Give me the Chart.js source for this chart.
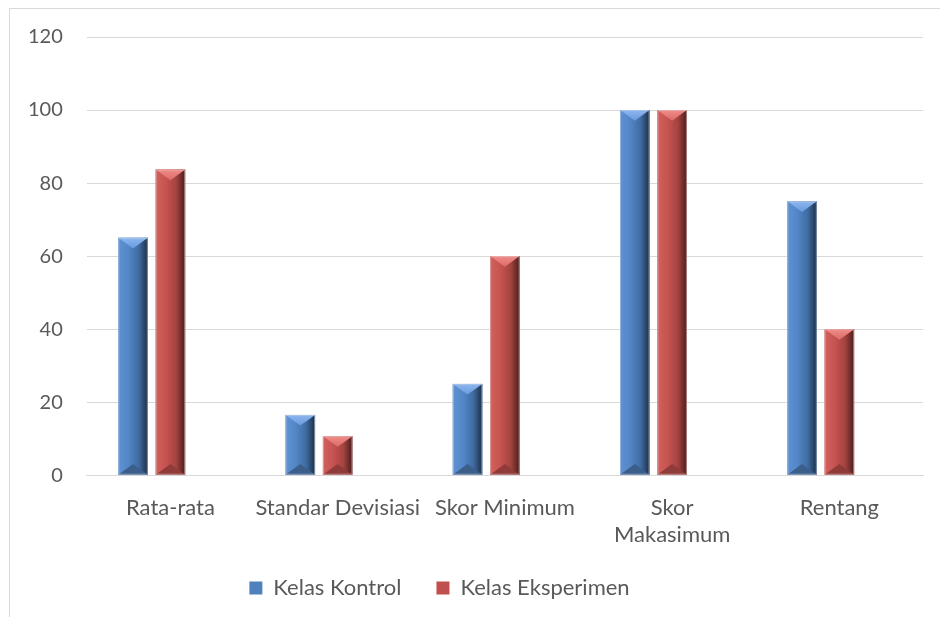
<!DOCTYPE html>
<html>
<head>
<meta charset="utf-8">
<script src="https://cdn.jsdelivr.net/npm/chart.js@4.4.1/dist/chart.umd.min.js"></script>
<style>
  body { margin: 0; background: #fff; overflow: hidden; }
</style>
</head>
<body>
<canvas id="chart" width="940" height="617"></canvas>
<script>
const categories = ['Rata-rata', 'Standar Devisiasi', 'Skor Minimum', ['Skor', 'Makasimum'], 'Rentang'];
const kelasKontrol = [65, 16.5, 25, 100, 75];
const kelasEksperimen = [83.7, 10.7, 60, 100, 40];
// third (empty) series in the original workbook, it still takes a slot in each group
const kosong = [null, null, null, null, null];
const yMin = 0, yMax = 120, yStep = 20;

const textColor = '#595959';
const gridColor = '#d9d9d9';

// bevel look of the office bars, drawn over each bar element
const bevel = {
    id: 'bevel',
    beforeDraw(chart) {
        const ctx = chart.ctx;
        ctx.save();
        ctx.strokeStyle = gridColor;
        ctx.lineWidth = 1;
        ctx.strokeRect(9.5, 8.5, 1000, 1000);
        ctx.restore();
    },
    afterLayout(chart) {
        // legend sits a bit left of centre in the original
        const lg = chart.legend;
        lg.left -= 24;
        lg.right -= 24;
        lg.top -= 18;
        lg.bottom = lg.top + 75;
    },
    afterDatasetsDraw(chart) {
        const ctx = chart.ctx;
        chart.data.datasets.forEach((ds, i) => {
            if (!ds.shade) return;
            const s = ds.shade;
            chart.getDatasetMeta(i).data.forEach(bar => {
                const {x, y, base, width} = bar.getProps(['x', 'y', 'base', 'width'], true);
                if (y == null || isNaN(y)) return;
                const l = x - width / 2, r = x + width / 2;
                ctx.save();
                const g = ctx.createLinearGradient(l, 0, r, 0);
                g.addColorStop(0, s.light);
                g.addColorStop(0.35, s.mid);
                g.addColorStop(0.7, s.mid2);
                g.addColorStop(1, s.dark);
                ctx.fillStyle = g;
                ctx.fillRect(l, y, width, base - y);
                const d = Math.min(width * 0.36, (base - y) / 2);
                ctx.beginPath();
                ctx.moveTo(l, y); ctx.lineTo(r, y); ctx.lineTo(x, y + d); ctx.closePath();
                const gt = ctx.createLinearGradient(0, y, 0, y + d);
                gt.addColorStop(0, s.top);
                gt.addColorStop(1, s.top2);
                ctx.fillStyle = gt;
                ctx.fill();
                ctx.beginPath();
                ctx.moveTo(l, base); ctx.lineTo(r, base); ctx.lineTo(x, base - d); ctx.closePath();
                ctx.fillStyle = s.bottom;
                ctx.fill();
                ctx.strokeStyle = s.edge;
                ctx.lineWidth = 1;
                ctx.strokeRect(l + 0.5, y + 0.5, width - 1, base - y - 1);
                ctx.restore();
            });
        });
    }
};

const ctx = document.querySelector('#chart').getContext('2d');

const chart = new Chart(ctx, {
    type: 'bar',
    data: {
        labels: categories,
        datasets: [{
            label: 'Kelas Kontrol',
            data: kelasKontrol,
            backgroundColor: '#4f81bd',
            shade: {light: '#5f92d4', mid: '#5286c6', mid2: '#3f6ba0', dark: '#1c2e45',
                    top: '#8cb6ef', top2: '#6a9ade', bottom: '#3c5e8a', edge: 'rgba(190,205,225,0.6)'}
        }, {
            label: 'Kelas Eksperimen',
            data: kelasEksperimen,
            backgroundColor: '#c0504d',
            shade: {light: '#d2605d', mid: '#c6534f', mid2: '#a34340', dark: '#4a1c1b',
                    top: '#f08c89', top2: '#dc6b68', bottom: '#8e3b39', edge: 'rgba(225,195,195,0.6)'}
        }, {
            label: '',
            data: kosong,
            backgroundColor: '#9bbb59'
        }]
    },
    options: {
        responsive: false,
        animation: false,
        layout: {
            padding: {left: 4, right: 17, top: 37, bottom: 7}
        },
        datasets: {
            bar: {
                categoryPercentage: 0.67,
                barPercentage: 0.79
            }
        },
        scales: {
            x: {
                grid: {display: false},
                border: {color: gridColor},
                ticks: {
                    color: textColor,
                    padding: 12,
                    maxRotation: 0,
                    autoSkip: false,
                    font: {family: 'Lato', size: 22, lineHeight: 1.2}
                }
            },
            y: {
                min: yMin,
                max: yMax,
                grid: {color: gridColor, drawTicks: false},
                border: {display: false},
                ticks: {
                    stepSize: yStep,
                    color: textColor,
                    padding: 24,
                    font: {family: 'Lato', size: 20}
                }
            }
        },
        plugins: {
            tooltip: {enabled: false},
            legend: {
                position: 'bottom',
                maxHeight: 50,
                labels: {
                    color: textColor,
                    boxWidth: 13,
                    boxHeight: 13,
                    padding: 35,
                    font: {family: 'Lato', size: 22},
                    filter: item => item.text !== ''
                }
            }
        }
    },
    plugins: [bevel]
});
</script>
</body>
</html>
